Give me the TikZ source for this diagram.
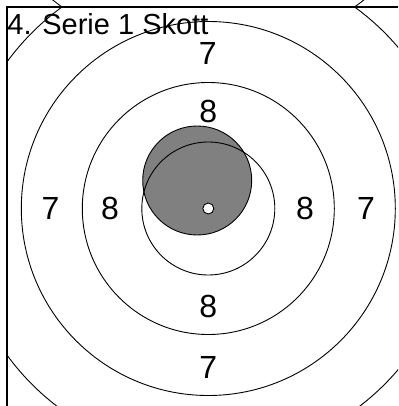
\documentclass[tikz,border=0pt]{standalone}
\usepackage{fontspec}
\setmainfont{Liberation Sans}
\usepackage{xcolor}
\definecolor{shotgrey}{HTML}{808080}

\begin{document}
\begin{tikzpicture}[
  x=1pt, y=-1pt,
  ring/.style={draw=black, line width=0.9pt},
  frameline/.style={draw=black, line width=1.4pt},
  title/.style={font=\fontsize{29}{34}\selectfont, inner sep=0pt, anchor=base west},
  ringlbl/.style={font=\fontsize{32}{36}\selectfont, inner sep=0pt, anchor=base},
  shot/.style={draw=black, line width=0.9pt, fill=shotgrey},
  hole/.style={draw=black, line width=0.9pt, fill=white}
]
\useasboundingbox (0,0) rectangle (398,406);

%% target centre at (208.3, 208.5); panel starts at (7, 7)
\coordinate (ctr) at (208.3, 208.5);
\coordinate (prevctr) at (208.3, -194.5);
\coordinate (panel_tl) at (7, 7);
\coordinate (panel_br) at (398, 406);

%% ─── PREVIOUS PANEL: outer ring peeks above the top line ─────────────────
\begin{scope}
  \clip (0,0) rectangle (398,7);
  \draw[ring] (prevctr) circle[radius=249pt];
\end{scope}

%% ─── THIS PANEL ────────────────────────────────────────────────────────────
\begin{scope}
  \clip (panel_tl) rectangle (panel_br);

  %% shot
  \draw[shot] (197.2, 180.5) circle[radius=54.5pt];

  %% rings 6 .. 9
  \draw[ring] (ctr) circle[radius=249pt];
  \draw[ring] (ctr) circle[radius=187pt];
  \draw[ring] (ctr) circle[radius=126pt];
  \draw[ring] (ctr) circle[radius=66.5pt];

  %% centre hole
  \draw[hole] (ctr) circle[radius=5.5pt];

  \node[title] (serie) at (7.2, 35) {4. Serie 1 Skott};

  %% ring numbers
  \node[ringlbl] (top7) at (207.8, 65) {7};
  \node[ringlbl] (top8) at (208.3, 122.5) {8};
  \node[ringlbl] (left7) at (50.5, 219.8) {7};
  \node[ringlbl] (left8) at (110, 219.8) {8};
  \node[ringlbl] (right8) at (305, 219.8) {8};
  \node[ringlbl] (right7) at (366, 219.8) {7};
  \node[ringlbl] (bot8) at (208.3, 317.5) {8};
  \node[ringlbl] (bot7) at (208.3, 378) {7};
\end{scope}

%% ─── PANEL FRAME: top and left edges ──────────────────────────────────────
\draw[frameline] (panel_br |- panel_tl) -- (panel_tl) -- (panel_tl |- panel_br);

\end{tikzpicture}
\end{document}
